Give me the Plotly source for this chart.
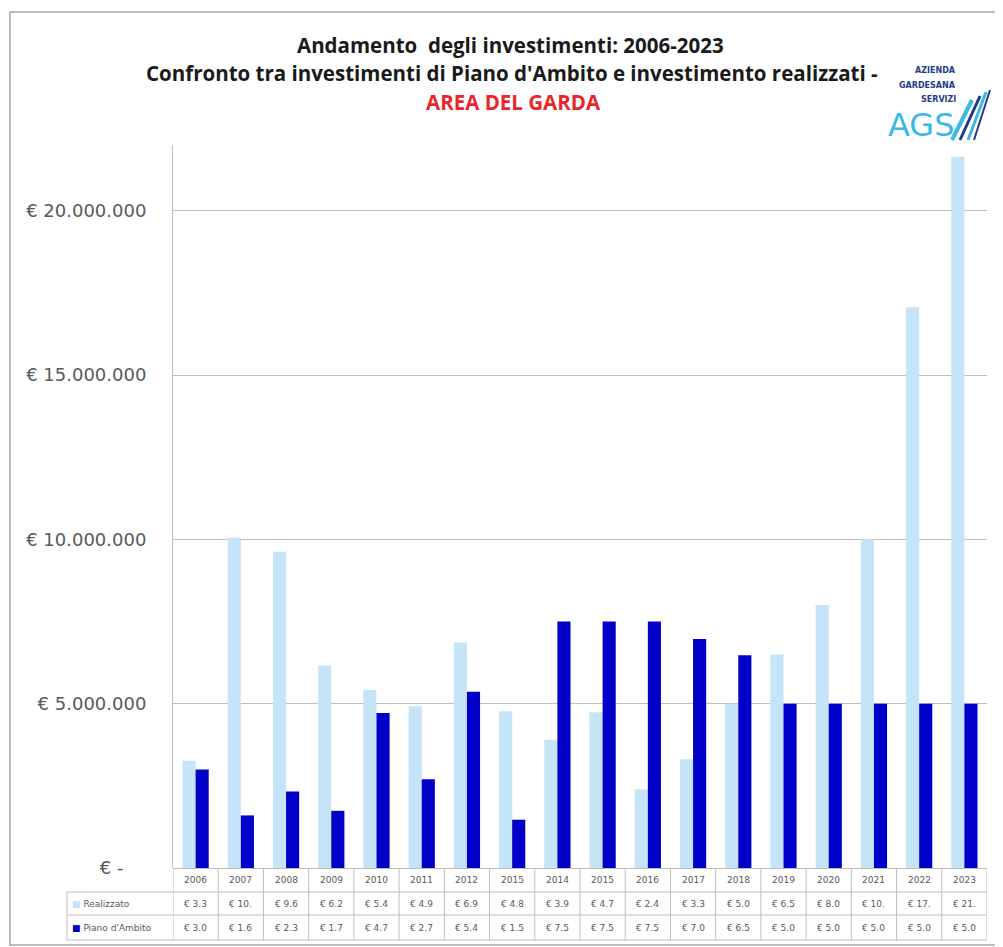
import plotly.graph_objects as go

years = ["2006", "2007", "2008", "2009", "2010", "2011", "2012", "2013", "2014",
         "2015", "2016", "2017", "2018", "2019", "2020", "2021", "2022", "2023"]
year_labels = ["2006", "2007", "2008", "2009", "2010", "2011", "2012", "2015", "2014",
               "2015", "2016", "2017", "2018", "2019", "2020", "2021", "2022", "2023"]
realizzato = [3.26e6, 10.05e6, 9.62e6, 6.16e6, 5.42e6, 4.92e6, 6.86e6, 4.77e6, 3.90e6,
              4.74e6, 2.40e6, 3.31e6, 5.00e6, 6.50e6, 8.00e6, 10.00e6, 17.06e6, 21.64e6]
piano = [3.00e6, 1.60e6, 2.33e6, 1.74e6, 4.72e6, 2.70e6, 5.36e6, 1.47e6, 7.50e6,
         7.50e6, 7.50e6, 6.97e6, 6.47e6, 5.00e6, 5.00e6, 5.00e6, 5.00e6, 5.00e6]
y_ticks = [0, 5e6, 10e6, 15e6, 20e6]
y_ticktext = ["€ -\u00a0\u00a0\u00a0\u00a0", "€ 5.000.000", "€ 10.000.000",
              "€ 15.000.000", "€ 20.000.000"]
series_names = ["Realizzato", "Piano d'Ambito"]

LIGHT = "#C6E4F7"
DARK = "#0000C8"
GRID = "#BFBFBF"
TXT = "#595959"

# page offset of the plot div (body margin), layout helpers in reference pixels
OFF = 8
FW, FH = 1003 - OFF, 947 - OFF
L, R, T, B = 173, 987, 145, 868
W, H = R - L, B - T


def px(x):
    return (x - L) / W


def py(y):
    return (B - y) / H


def cell(v):
    return "€ " + f"{v / 1e6:.1f}"[:3]


fig = go.Figure()
fig.add_trace(go.Bar(x=years, y=realizzato, name=series_names[0], marker_color=LIGHT,
                     marker_line_width=0))
fig.add_trace(go.Bar(x=years, y=piano, name=series_names[1], marker_color=DARK,
                     marker_line_width=0))

shapes = []
annotations = []

# outer frame
shapes.append(dict(type="rect", xref="paper", yref="paper", x0=px(10), x1=px(1001),
                   y0=py(945), y1=py(12), line=dict(color="#A6A6A6", width=1.5),
                   fillcolor="rgba(0,0,0,0)", layer="below"))

# title
title_font = dict(family="Open Sans", size=20.5, color="#1a1a1a")
annotations.append(dict(text="<b>Andamento  degli investimenti: 2006-2023</b>", x=px(510), y=py(45),
                        xref="paper", yref="paper", showarrow=False, font=title_font,
                        xanchor="center", yanchor="middle"))
annotations.append(dict(text="<b>Confronto tra investimenti di Piano d'Ambito e investimento realizzati -</b>",
                        x=px(512), y=py(73), xref="paper", yref="paper", showarrow=False,
                        font=title_font, xanchor="center", yanchor="middle"))
annotations.append(dict(text="<b>AREA DEL GARDA</b>", x=px(513), y=py(102), xref="paper",
                        yref="paper", showarrow=False,
                        font=dict(family="Open Sans", size=20.5, color="#E8262B"),
                        xanchor="center", yanchor="middle"))

# logo
logo_font = dict(family="DejaVu Sans", size=8, color="#1F3C88")
for txt, yy in [("AZIENDA", 71), ("GARDESANA", 85), ("SERVIZI", 99)]:
    annotations.append(dict(text="<b>" + txt + "</b>", x=px(958), y=py(yy), xref="paper", yref="paper",
                            showarrow=False, font=logo_font, xanchor="right", yanchor="middle"))
annotations.append(dict(text="AGS", x=px(886), y=py(125), xref="paper", yref="paper",
                        showarrow=False, font=dict(family="DejaVu Sans", size=32, color="#3BB8E6"),
                        xanchor="left", yanchor="middle"))
for (x0, y0, x1, y1, c, w) in [(952, 140, 972, 100, "#3BB8E6", 4), (960, 140, 980, 96, "#1F3C88", 3),
                               (968, 140, 986, 92, "#3BB8E6", 3), (974, 140, 990, 90, "#1F3C88", 2)]:
    shapes.append(dict(type="line", xref="paper", yref="paper", x0=px(x0), y0=py(y0),
                       x1=px(x1), y1=py(y1), line=dict(color=c, width=w)))

# data table
rows_y = [868, 892, 915, 940]
tcol = "#BFBFBF"
for yy in rows_y[1:]:
    shapes.append(dict(type="line", xref="paper", yref="paper", x0=px(67), x1=1,
                       y0=py(yy), y1=py(yy), line=dict(color=tcol, width=1)))
shapes.append(dict(type="line", xref="paper", yref="paper", x0=px(67), x1=px(67),
                   y0=py(892), y1=py(940), line=dict(color=tcol, width=1)))
for i in range(len(years) + 1):
    shapes.append(dict(type="line", xref="x", yref="paper", x0=i - 0.5, x1=i - 0.5,
                       y0=py(868), y1=py(940), line=dict(color=tcol, width=1)))

cell_font = dict(family="DejaVu Sans", size=9, color=TXT)
for i, yr in enumerate(years):
    annotations.append(dict(text=year_labels[i], x=i, xref="x", y=py(880), yref="paper",
                            showarrow=False, font=cell_font, xanchor="center", yanchor="middle"))
    annotations.append(dict(text=cell(realizzato[i]), x=i, xref="x", y=py(903.5), yref="paper",
                            showarrow=False, font=cell_font, xanchor="center", yanchor="middle"))
    annotations.append(dict(text=cell(piano[i]), x=i, xref="x", y=py(927.5), yref="paper",
                            showarrow=False, font=cell_font, xanchor="center", yanchor="middle"))

for name, col, yy in [(series_names[0], LIGHT, 903.5), (series_names[1], DARK, 927.5)]:
    annotations.append(dict(text=f'<span style="color:{col}">■</span> {name}', x=px(70), y=py(yy),
                            xref="paper", yref="paper", showarrow=False, font=cell_font,
                            xanchor="left", yanchor="middle"))

fig.update_layout(
    width=FW, height=FH,
    margin=dict(l=L - OFF, r=1003 - R, t=T - OFF, b=947 - B, pad=0),
    paper_bgcolor="white", plot_bgcolor="white",
    barmode="group", bargap=0.42, bargroupgap=0,
    showlegend=False,
    shapes=shapes, annotations=annotations,
    font=dict(family="DejaVu Sans", color=TXT),
)
fig.update_xaxes(type="category", range=[-0.5, len(years) - 0.5], showticklabels=False,
                 showgrid=False, zeroline=False, showline=False, ticks="")
fig.update_yaxes(range=[0, 22e6], tickvals=y_ticks, ticktext=y_ticktext,
                 tickfont=dict(family="DejaVu Sans", size=18, color=TXT),
                 showgrid=True, gridcolor=GRID, gridwidth=1, zeroline=True,
                 zerolinecolor=GRID, zerolinewidth=1,
                 showline=True, linecolor=GRID, linewidth=1, ticks="",
                 ticklabelstandoff=22)

fig.write_html("out.html")
